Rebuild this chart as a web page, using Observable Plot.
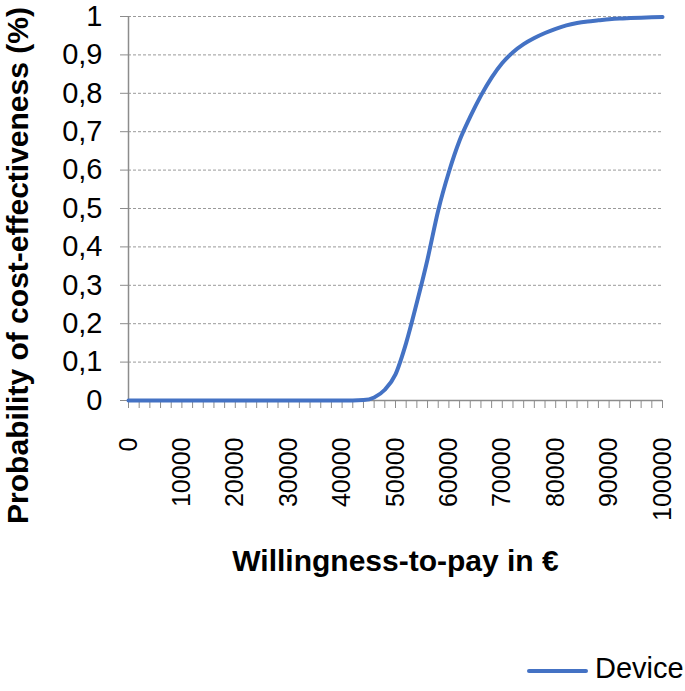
<!DOCTYPE html>
<html>
<head>
<meta charset="utf-8">
<script src="https://cdn.jsdelivr.net/npm/d3@7"></script>
<script src="https://cdn.jsdelivr.net/npm/@observablehq/plot@0.6"></script>
<style>
  body { margin: 0; background: #fff; font-family: "Liberation Sans", Arial, sans-serif; }
  #wrap { position: relative; width: 685px; height: 691px; }
  #legend { position: absolute; left: 527px; top: 652px; display: flex; align-items: center; gap: 7px; font-size: 29px; color: #000; }
  #legend .sw { width: 61px; height: 4px; background: #4472C4; border-radius: 2px; margin-top: 4px; }
</style>
</head>
<body>
<div id="wrap"><div id="chart"></div><div id="legend"><span class="sw"></span><span>Device</span></div></div>
<script>
// Willingness-to-pay categories (€)
const wtp = [0,2000,4000,6000,8000,10000,12000,14000,16000,18000,20000,22000,24000,26000,28000,30000,32000,34000,36000,38000,40000,42000,44000,46000,48000,50000,52000,54000,56000,58000,60000,62000,64000,66000,68000,70000,72000,74000,76000,78000,80000,82000,84000,86000,88000,90000,92000,94000,96000,98000,100000];
// Probability of cost-effectiveness for "Device"
const device = [0,0,0,0,0,0,0,0,0,0,0,0,0,0,0,0,0,0,0,0,0,0,0.001,0.008,0.028,0.068,0.15,0.255,0.368,0.495,0.595,0.677,0.739,0.794,0.841,0.879,0.907,0.928,0.944,0.957,0.968,0.977,0.983,0.987,0.99,0.993,0.995,0.996,0.997,0.998,0.999];
const xTicks = [0,10000,20000,30000,40000,50000,60000,70000,80000,90000,100000];
const xTickLabels = ["0","10000","20000","30000","40000","50000","60000","70000","80000","90000","100000"];
const yTicks = [0,0.1,0.2,0.3,0.4,0.5,0.6,0.7,0.8,0.9,1];
const yTickLabels = ["0","0,1","0,2","0,3","0,4","0,5","0,6","0,7","0,8","0,9","1"];
const xTitle = "Willingness-to-pay in €";
const yTitle = "Probability of cost-effectiveness (%)";
const seriesName = "Device";

const data = wtp.map((w, i) => ({w, p: device[i]}));
const gray = "#8c8c8c";

const chart = Plot.plot({
  width: 685,
  height: 640,
  marginLeft: 128,
  marginRight: 23,
  marginTop: 16,
  marginBottom: 240,
  style: {fontFamily: "'Liberation Sans', Arial, sans-serif", color: "#000", background: "#fff", overflow: "visible"},
  x: {domain: [0, 100000]},
  y: {domain: [0, 1]},
  marks: [
    Plot.ruleY(yTicks.slice(1), {stroke: "#9a9a9a", strokeWidth: 1, strokeDasharray: "3,2"}),
    Plot.ruleY([0], {stroke: gray, strokeWidth: 1.5}),
    Plot.ruleX([0], {stroke: gray, strokeWidth: 1.5}),
    Plot.axisY(yTicks, {tickSize: 8, tickPadding: 18, fontSize: 29, stroke: gray, tickFormat: (d, i) => yTickLabels[i], label: null}),
    Plot.axisX(wtp, {tickSize: 8, stroke: gray, tickFormat: () => "", label: null}),
    Plot.axisX(xTicks, {tickSize: 0, tickPadding: 37, tickRotate: -90, fontSize: 25, tickFormat: (d, i) => xTickLabels[i], label: null}),
    Plot.line(data, {x: "w", y: "p", stroke: "#4472C4", strokeWidth: 4, strokeLinecap: "round", strokeLinejoin: "round", curve: "monotone-x"}),
    Plot.text([xTitle], {frameAnchor: "bottom", textAnchor: "middle", lineAnchor: "middle", dy: 161, fontSize: 30, fontWeight: "bold", fill: "#000"}),
    Plot.text([yTitle], {frameAnchor: "left", textAnchor: "middle", lineAnchor: "middle", dx: -110, dy: 57, rotate: -90, fontSize: 30, fontWeight: "bold", fill: "#000"})
  ]
});
document.getElementById("chart").appendChild(chart);
</script>
</body>
</html>
